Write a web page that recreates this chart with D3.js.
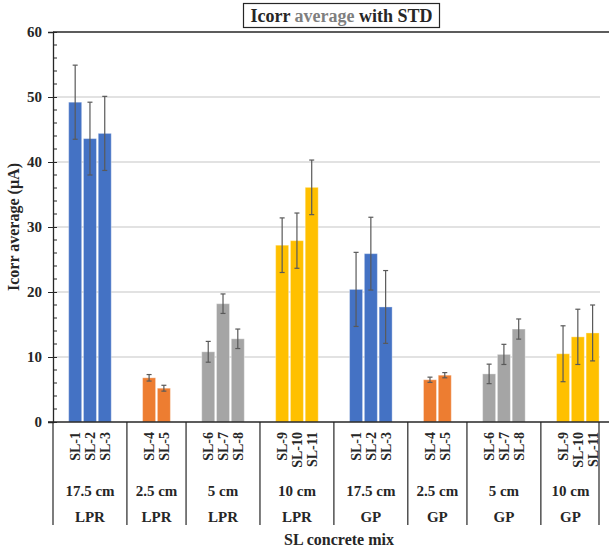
<!DOCTYPE html>
<html>
<head>
<meta charset="utf-8">
<script src="https://cdn.jsdelivr.net/npm/d3@7"></script>
<style>
  body { margin: 0; background: #fff; }
  svg { font-family: "Liberation Serif", "Times New Roman", serif; font-weight: bold; }
</style>
</head>
<body>
<svg id="chart" width="609" height="551"></svg>
<script>
// thickness groups, in the order they appear on the axis
const thickness = ["17.5 cm", "2.5 cm", "5 cm", "10 cm", "17.5 cm", "2.5 cm", "5 cm", "10 cm"];
const method = ["LPR", "LPR", "LPR", "LPR", "GP", "GP", "GP", "GP"];
const samples = [
  ["SL-1", "SL-2", "SL-3"], ["SL-4", "SL-5"], ["SL-6", "SL-7", "SL-8"], ["SL-9", "SL-10", "SL-11"],
  ["SL-1", "SL-2", "SL-3"], ["SL-4", "SL-5"], ["SL-6", "SL-7", "SL-8"], ["SL-9", "SL-10", "SL-11"]
];
const icorrMean = [
  [49.2, 43.6, 44.4], [6.8, 5.2], [10.8, 18.2, 12.8], [27.2, 27.9, 36.1],
  [20.4, 25.9, 17.7], [6.5, 7.2], [7.4, 10.4, 14.3], [10.5, 13.1, 13.7]
];
const icorrStd = [
  [5.7, 5.6, 5.7], [0.5, 0.45], [1.6, 1.5, 1.5], [4.2, 4.25, 4.2],
  [5.7, 5.6, 5.6], [0.4, 0.4], [1.5, 1.55, 1.55], [4.3, 4.25, 4.3]
];
const yTicks = [0, 10, 20, 30, 40, 50, 60];

const colorBySize = { "17.5 cm": "#4472C4", "2.5 cm": "#ED7D31", "5 cm": "#A5A5A5", "10 cm": "#FFC000" };

const svg = d3.select("#chart");
const plotLeft = 53, plotRight = 600, plotTop = 32, plotBottom = 422;

// one slot per bar, plus empty slots that Excel used as spacers
const slots = [];
const groupStart = [];
samples.forEach((list, g) => {
  groupStart.push(slots.length);
  slots.push({ id: `${g}-a` });
  list.forEach((name, i) => slots.push({ id: `${g}-${i}`, g, i, name }));
  if (g < samples.length - 1) slots.push({ id: `${g}-b` });
});

const x = d3.scaleBand().domain(slots.map((d) => d.id)).range([plotLeft, plotRight]);
const y = d3.scaleLinear().domain([0, 60]).range([plotBottom, plotTop]);

// gridlines
svg.append("g")
  .selectAll("line")
  .data(yTicks.filter((t) => t > 0 && t < 60))
  .enter()
  .append("line")
  .attr("x1", plotLeft).attr("x2", plotRight)
  .attr("y1", (d) => y(d)).attr("y2", (d) => y(d))
  .attr("stroke", "#d9d9d9").attr("stroke-width", 1.3);

// top border line
svg.append("line")
  .attr("x1", plotLeft).attr("x2", 609)
  .attr("y1", y(60)).attr("y2", y(60))
  .attr("stroke", "#262626").attr("stroke-width", 1.3);

const bars = slots.filter((d) => d.name);
const bw = x.bandwidth() * 0.88;

svg.append("g")
  .selectAll("rect")
  .data(bars)
  .enter()
  .append("rect")
  .attr("x", (d) => x(d.id) + (x.bandwidth() - bw) / 2)
  .attr("width", bw)
  .attr("y", (d) => y(icorrMean[d.g][d.i]))
  .attr("height", (d) => plotBottom - y(icorrMean[d.g][d.i]))
  .attr("fill", (d) => colorBySize[thickness[d.g]])
  .attr("stroke", "rgba(255,255,255,0.35)")
  .attr("stroke-width", 1);

// error bars
const err = svg.append("g").attr("stroke", "#595959").attr("stroke-width", 1.2);
bars.forEach((d) => {
  const cx = x(d.id) + x.bandwidth() / 2;
  const m = icorrMean[d.g][d.i], s = icorrStd[d.g][d.i];
  err.append("line").attr("x1", cx).attr("x2", cx).attr("y1", y(m + s)).attr("y2", y(m - s));
  [m + s, m - s].forEach((v) => {
    err.append("line").attr("x1", cx - 2.5).attr("x2", cx + 2.5).attr("y1", y(v)).attr("y2", y(v));
  });
});

// y axis
const yAxis = svg.append("g")
  .attr("transform", `translate(${plotLeft},0)`)
  .call(d3.axisLeft(y).tickValues(yTicks).tickSize(5).tickPadding(6));
yAxis.select(".domain").attr("stroke", "#262626").attr("stroke-width", 1.3);
yAxis.selectAll(".tick line").attr("stroke", "#262626").attr("x2", -5).attr("x1", 4);
yAxis.selectAll("text")
  .attr("font-family", "Liberation Serif, Times New Roman, serif")
  .attr("font-weight", "bold").attr("font-size", 15).attr("fill", "#262626");

// minor ticks
svg.append("g")
  .selectAll("line")
  .data(d3.range(2, 60, 2).filter((v) => v % 10 !== 0))
  .enter()
  .append("line")
  .attr("x1", plotLeft).attr("x2", plotLeft + 4)
  .attr("y1", (d) => y(d)).attr("y2", (d) => y(d))
  .attr("stroke", "#262626").attr("stroke-width", 1);

// x axis line
svg.append("line")
  .attr("x1", plotLeft - 5).attr("x2", 609)
  .attr("y1", plotBottom).attr("y2", plotBottom)
  .attr("stroke", "#262626").attr("stroke-width", 1.3);

// group separators down through the label rows
const sepX = groupStart.map((s) => x(slots[s].id)).concat([plotRight - 1]);
svg.append("g")
  .selectAll("line")
  .data(sepX)
  .enter()
  .append("line")
  .attr("x1", (d) => d).attr("x2", (d) => d)
  .attr("y1", plotBottom).attr("y2", 525)
  .attr("stroke", "#262626").attr("stroke-width", 1.2);

// rotated sample labels
svg.append("g")
  .selectAll("text")
  .data(bars)
  .enter()
  .append("text")
  .attr("transform", (d) => `translate(${x(d.id) + x.bandwidth() / 2},432) rotate(-90)`)
  .attr("text-anchor", "end")
  .attr("dy", "0.35em")
  .attr("font-size", 14)
  .attr("fill", "#262626")
  .text((d) => d.name);

// thickness and method rows
const groupCenter = groupStart.map((s, g) => {
  const end = g < groupStart.length - 1 ? x(slots[groupStart[g + 1]].id) : plotRight;
  return (x(slots[s].id) + end) / 2;
});
svg.append("g")
  .selectAll("text")
  .data(thickness)
  .enter()
  .append("text")
  .attr("x", (d, i) => groupCenter[i]).attr("y", 496)
  .attr("text-anchor", "middle").attr("font-size", 15).attr("fill", "#262626")
  .text((d) => d);
svg.append("g")
  .selectAll("text")
  .data(method)
  .enter()
  .append("text")
  .attr("x", (d, i) => groupCenter[i]).attr("y", 522)
  .attr("text-anchor", "middle").attr("font-size", 15).attr("fill", "#262626")
  .text((d) => d);

// axis titles
svg.append("text")
  .attr("x", 339).attr("y", 545)
  .attr("text-anchor", "middle").attr("font-size", 16).attr("fill", "#262626")
  .text("SL concrete mix");
svg.append("text")
  .attr("transform", `translate(19,${(plotTop + plotBottom) / 2}) rotate(-90)`)
  .attr("text-anchor", "middle").attr("font-size", 16).attr("fill", "#262626")
  .text("Icorr average (µA)");

// boxed title
svg.append("rect")
  .attr("x", 243.5).attr("y", 3.5).attr("width", 196).attr("height", 24)
  .attr("fill", "#fff").attr("stroke", "#262626").attr("stroke-width", 1.2);
const title = svg.append("text")
  .attr("x", 341.5).attr("y", 22)
  .attr("text-anchor", "middle").attr("font-size", 18).attr("fill", "#262626");
title.append("tspan").text("Icorr ");
title.append("tspan").attr("fill", "#7f7f7f").text("average");
title.append("tspan").text(" with STD");
</script>
</body>
</html>
